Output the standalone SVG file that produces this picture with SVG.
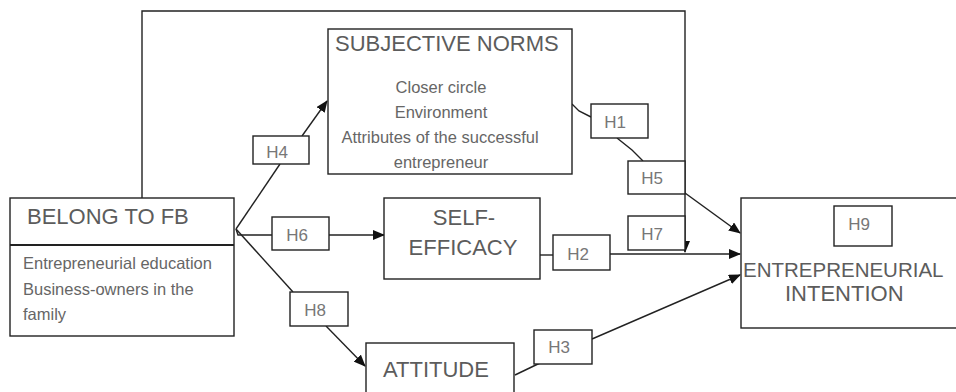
<svg xmlns="http://www.w3.org/2000/svg" width="956" height="392" viewBox="0 0 956 392">
<defs>
<style>
.box{fill:#fff;stroke:#222;stroke-width:1.4}
.hb{fill:#fff;stroke:#222;stroke-width:1.4}
.ln{fill:none;stroke:#222;stroke-width:1.4}
.t{font-family:"Liberation Sans",Arial,sans-serif;fill:#5c5c5c}
.title{font-size:22px}
.small{font-size:16.5px;fill:#666}
.h{font-size:17px;fill:#777;text-anchor:middle}
</style>
<marker id="ar" markerUnits="userSpaceOnUse" markerWidth="12" markerHeight="10" refX="11" refY="5" orient="auto">
<path d="M0,0 L12,5 L0,10 Z" fill="#111"/>
</marker>
</defs>
<rect width="956" height="392" fill="#fff"/>

<g id="connectors">
<path class="ln" d="M142,198 V11 H685 V252" marker-end="url(#ar)"/>
<path class="ln" d="M236,229 L280,164"/>
<path class="ln" d="M302,136 L327,101" marker-end="url(#ar)"/>
<path class="ln" d="M236,229 L238,235 H272"/>
<path class="ln" d="M329,235 H384" marker-end="url(#ar)"/>
<path class="ln" d="M236,229 L293,292"/>
<path class="ln" d="M326,326 L365,366" marker-end="url(#ar)"/>
<path class="ln" d="M572,104 L579,111 L591,117"/>
<path class="ln" d="M617,138 L632,150 L643,161"/>
<path class="ln" d="M685,193 L740,233" marker-end="url(#ar)"/>
<path class="ln" d="M535,255 H553"/>
<path class="ln" d="M610,254 H740" marker-end="url(#ar)"/>
<path class="ln" d="M515,375 L540,363"/>
<path class="ln" d="M592,339 L740,275" marker-end="url(#ar)"/>
</g>

<g id="subjective-norms">
<rect class="box" x="328" y="29" width="244" height="145"/>
<text class="t title" x="335" y="51">SUBJECTIVE NORMS</text>
<text class="t small" text-anchor="middle" x="441" y="93">Closer circle</text>
<text class="t small" text-anchor="middle" x="441" y="118">Environment</text>
<text class="t small" text-anchor="middle" x="440" y="143">Attributes of the successful</text>
<text class="t small" text-anchor="middle" x="441" y="168">entrepreneur</text>
</g>

<g id="belong-to-fb">
<rect class="box" x="10" y="198" width="224" height="138"/>
<line x1="10" y1="245" x2="234" y2="245" stroke="#222" stroke-width="2.2"/>
<text class="t title" x="27" y="224">BELONG TO FB</text>
<text class="t small" x="23" y="269">Entrepreneurial education</text>
<text class="t small" x="23" y="295">Business-owners in the</text>
<text class="t small" x="23" y="320">family</text>
</g>

<g id="self-efficacy">
<rect class="box" x="384" y="198" width="156" height="81"/>
<text class="t title" text-anchor="middle" x="464" y="225">SELF-</text>
<text class="t title" text-anchor="middle" x="463" y="255">EFFICACY</text>
</g>

<g id="attitude">
<rect class="box" x="366" y="343" width="148" height="70"/>
<text class="t title" x="383" y="377">ATTITUDE</text>
</g>

<g id="entrepreneurial-intention">
<rect class="box" x="741" y="198" width="230" height="130"/>
<text class="t" style="font-size:20.5px" x="743" y="277">ENTREPRENEURIAL</text>
<text class="t title" x="785" y="301">INTENTION</text>
</g>

<g id="h4"><rect class="hb" x="253" y="136" width="56" height="28"/><text class="t h" x="277" y="158">H4</text></g>
<g id="h1"><rect class="hb" x="591" y="104" width="57" height="34"/><text class="t h" x="615" y="128">H1</text></g>
<g id="h5"><rect class="hb" x="628" y="161" width="57" height="33"/><text class="t h" x="652" y="184">H5</text></g>
<g id="h6"><rect class="hb" x="272" y="217" width="57" height="33"/><text class="t h" x="297" y="241">H6</text></g>
<g id="h7"><rect class="hb" x="628" y="216" width="57" height="34"/><text class="t h" x="652" y="240">H7</text></g>
<g id="h2"><rect class="hb" x="553" y="235" width="57" height="35"/><text class="t h" x="578" y="260">H2</text></g>
<g id="h8"><rect class="hb" x="290" y="292" width="58" height="34"/><text class="t h" x="315" y="316">H8</text></g>
<g id="h3"><rect class="hb" x="534" y="330" width="58" height="34"/><text class="t h" x="559" y="353">H3</text></g>
<g id="h9"><rect class="hb" x="834" y="206" width="58" height="40"/><text class="t h" x="859" y="230">H9</text></g>
</svg>
